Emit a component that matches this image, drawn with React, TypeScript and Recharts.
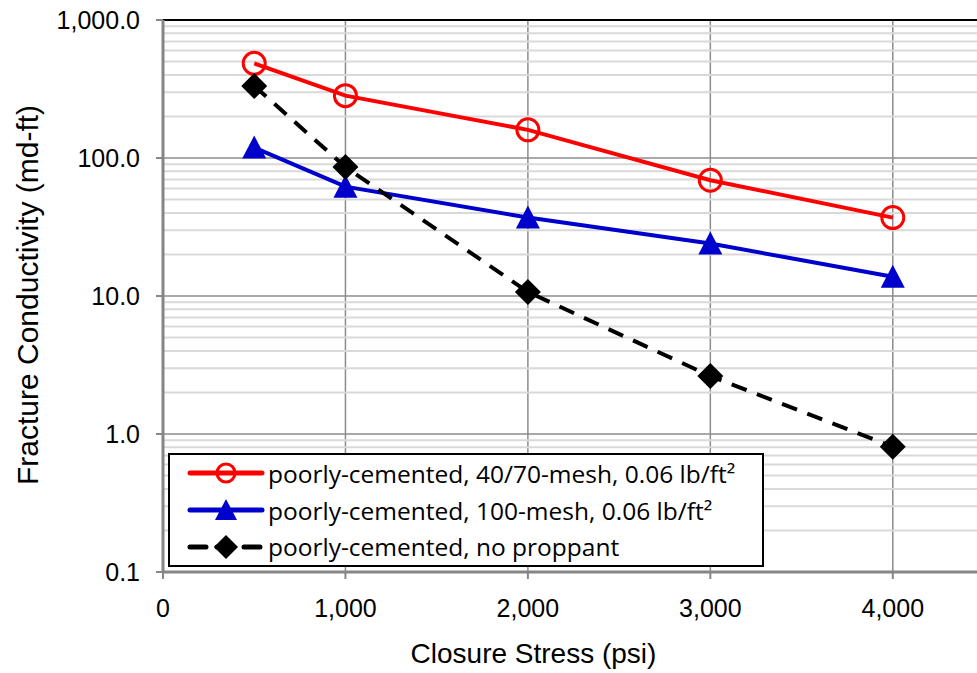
import React from "react";
import { CartesianGrid, Legend, Line, LineChart, ReferenceLine, XAxis, YAxis } from "recharts";

// closure stress (psi) and fracture conductivity (md-ft) per sample
const stress = [500, 1000, 2000, 3000, 4000];
const mesh4070 = [485, 283, 160, 69, 37];
const mesh100 = [119, 62, 37, 24, 13.8];
const noProppant = [333, 86, 10.7, 2.63, 0.81];

const xTicks = [0, 1000, 2000, 3000, 4000];
const yTicks = [0.1, 1, 10, 100, 1000];
const minorSteps = [2, 3, 4, 5, 6, 7, 8, 9];

const seriesNames = [
  "poorly-cemented, 40/70-mesh, 0.06 lb/ft²",
  "poorly-cemented, 100-mesh, 0.06 lb/ft²",
  "poorly-cemented, no proppant",
];

const RED = "#ff0000";
const BLUE = "#0000cc";
const BLACK = "#000000";
const DASH = "16 11";

const data = stress.map((s, i) => ({
  stress: s,
  coarse: mesh4070[i],
  fine: mesh100[i],
  none: noProppant[i],
}));

// light lines at 2..9 of every decade
const minorLines = yTicks.slice(0, -1).flatMap((d) => minorSteps.map((m) => +(d * m).toPrecision(3)));

const axisFont = { fontFamily: "'Liberation Sans', Arial, sans-serif", fill: "#000" };

function CircleMark({ cx, cy }: any) {
  if (cx == null || cy == null) return null;
  return <circle cx={cx} cy={cy} r={11} fill="none" stroke={RED} strokeWidth={3} />;
}

function TriangleMark({ cx, cy }: any) {
  if (cx == null || cy == null) return null;
  return <path d={`M${cx},${cy - 12} L${cx + 12},${cy + 11} L${cx - 12},${cy + 11} Z`} fill={BLUE} />;
}

function DiamondMark({ cx, cy }: any) {
  if (cx == null || cy == null) return null;
  return <path d={`M${cx},${cy - 13} L${cx + 13},${cy} L${cx},${cy + 13} L${cx - 13},${cy} Z`} fill={BLACK} />;
}

function LegendIcon({ kind }: { kind: number }) {
  const color = [RED, BLUE, BLACK][kind];
  const mark =
    kind === 0 ? (
      <circle cx={56} cy={19} r={9} fill="none" stroke={RED} strokeWidth={3} />
    ) : kind === 1 ? (
      <path d="M56,8 L67,29 L45,29 Z" fill={BLUE} />
    ) : (
      <path d="M56,7 L68,19 L56,31 L44,19 Z" fill={BLACK} />
    );
  return (
    <svg width={98} height={38} style={{ display: "block", flex: "none" }}>
      <line
        x1={20}
        x2={92}
        y1={19}
        y2={19}
        stroke={color}
        strokeWidth={5}
        strokeLinecap="round"
        strokeDasharray={kind === 2 ? DASH : undefined}
      />
      {mark}
    </svg>
  );
}

function LegendBox() {
  return (
    <div
      style={{
        boxSizing: "border-box",
        width: 596,
        height: 114,
        border: "2px solid #000",
        background: "#fff",
        fontFamily: "'Open Sans', sans-serif",
        fontSize: 24.5,
        color: "#000",
      }}
    >
      {seriesNames.map((name, i) => (
        <div key={name} style={{ display: "flex", alignItems: "center", height: 36.7 }}>
          <LegendIcon kind={i} />
          <span style={{ whiteSpace: "nowrap" }}>{name}</span>
        </div>
      ))}
    </div>
  );
}

export default function App() {
  return (
    <div
      style={{
        position: "absolute",
        left: 0,
        top: 0,
        width: 977,
        height: 673,
        overflow: "hidden",
        background: "#fff",
      }}
    >
      <LineChart width={1000} height={673} data={data} margin={{ top: 20, right: 16, bottom: 0, left: 0 }}>
        {minorLines.map((v) => (
          <ReferenceLine key={v} y={v} stroke="#d9d9d9" strokeWidth={2} />
        ))}
        <CartesianGrid stroke="#8c8c8c" strokeWidth={1.5} />
        <ReferenceLine y={1000} stroke="#000" strokeWidth={2} />
        <XAxis
          dataKey="stress"
          type="number"
          domain={[0, 4500]}
          ticks={xTicks}
          height={101}
          tickSize={7}
          tickMargin={20}
          axisLine={{ stroke: "#868686", strokeWidth: 3 }}
          tickLine={{ stroke: "#868686", strokeWidth: 2 }}
          tick={{ ...axisFont, fontSize: 25 }}
          tickFormatter={(v: number) => v.toLocaleString("en-US")}
          label={{
            value: "Closure Stress (psi)",
            position: "insideBottom",
            offset: 10,
            dx: -40,
            style: { ...axisFont, fontSize: 28 },
          }}
        />
        <YAxis
          scale="log"
          type="number"
          domain={[0.1, 1000]}
          ticks={yTicks}
          allowDataOverflow
          width={163}
          tickSize={7}
          tickMargin={16}
          axisLine={{ stroke: "#868686", strokeWidth: 3 }}
          tickLine={{ stroke: "#868686", strokeWidth: 2 }}
          tick={{ ...axisFont, fontSize: 25 }}
          tickFormatter={(v: number) =>
            v.toLocaleString("en-US", { minimumFractionDigits: 1, maximumFractionDigits: 1 })
          }
          label={() => (
            <text
              x={27}
              y={295}
              transform="rotate(-90 27 295)"
              textAnchor="middle"
              dominantBaseline="central"
              fontSize={30}
              {...axisFont}
            >
              Fracture Conductivity (md-ft)
            </text>
          )}
        />
        <Legend
          layout="vertical"
          align="center"
          verticalAlign="middle"
          content={() => <LegendBox />}
          wrapperStyle={{ left: 168, top: 453, width: 596, height: 114 }}
        />
        <Line
          dataKey="coarse"
          name={seriesNames[0]}
          type="linear"
          stroke={RED}
          strokeWidth={4}
          dot={<CircleMark />}
          activeDot={false}
          isAnimationActive={false}
        />
        <Line
          dataKey="fine"
          name={seriesNames[1]}
          type="linear"
          stroke={BLUE}
          strokeWidth={4}
          dot={<TriangleMark />}
          activeDot={false}
          isAnimationActive={false}
        />
        <Line
          dataKey="none"
          name={seriesNames[2]}
          type="linear"
          stroke={BLACK}
          strokeWidth={4}
          strokeDasharray={DASH}
          dot={<DiamondMark />}
          activeDot={false}
          isAnimationActive={false}
        />
      </LineChart>
    </div>
  );
}
